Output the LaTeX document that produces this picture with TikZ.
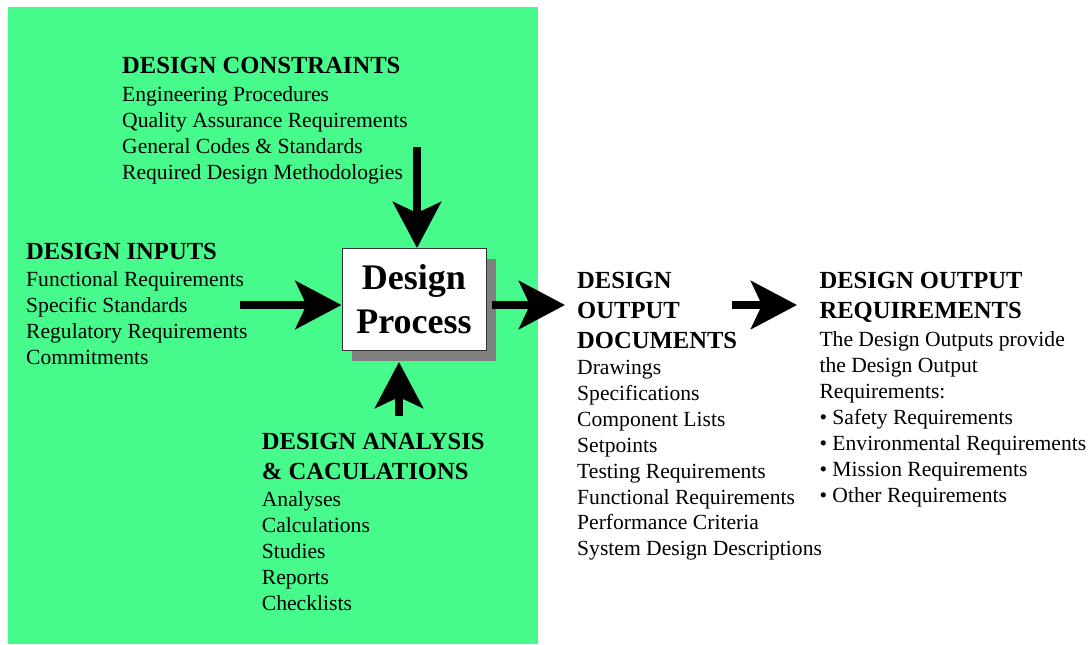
\documentclass[tikz,border=0pt]{standalone}
\usepackage{fontspec}
\setmainfont{Liberation Serif}
\usepackage{tikz}
\usetikzlibrary{arrows.meta,shadows}
\usepackage{xcolor}
\definecolor{ScreaminGreen}{HTML}{46FA8C}
\definecolor{Gray}{HTML}{808080}
\definecolor{Mine}{HTML}{333333}
\tikzset{
  head/.style={anchor=base west,inner sep=0,font=\bfseries\fontsize{24.6}{30}\selectfont},
  body/.style={anchor=base west,inner sep=0,font=\fontsize{21.6}{26}\selectfont},
  bigarrow/.style={line width=8pt,-{Stealth[length=46pt,width=48pt,inset=11pt]}},
  procbox/.style={draw=Mine,line width=1pt,fill=white,minimum width=144pt,minimum height=102pt,
    align=center,inner sep=0,font=\bfseries\fontsize{36}{44}\selectfont,
    drop shadow={shadow xshift=10pt,shadow yshift=-10pt,fill=Gray,opacity=1}}
}

\begin{document}
\begin{tikzpicture}[x=1pt,y=-1pt]
     \useasboundingbox (0,0) rectangle (1090,645);
     \fill[ScreaminGreen] (8,7) rectangle (538,644);

     % constraints
     \node[head] (conhead) at (122,73.3) {DESIGN CONSTRAINTS};
     \foreach \txt [count=\i from 0] in {Engineering Procedures,Quality Assurance Requirements,General Codes \& Standards,Required Design Methodologies}
       \node[body] (con\i) at (122,{101+26*\i}) {\txt};

     % inputs
     \node[head] (inhead) at (26,259.3) {DESIGN INPUTS};
     \foreach \txt [count=\i from 0] in {Functional Requirements,Specific Standards,Regulatory Requirements,Commitments}
       \node[body] (in\i) at (26,{286+26*\i}) {\txt};

     % analysis
     \node[head] (anahead) at (261.7,449.3) {DESIGN ANALYSIS};
     \node[head] (anahead2) at (261.7,479.3) {\& CACULATIONS};
     \foreach \txt [count=\i from 0] in {Analyses,Calculations,Studies,Reports,Checklists}
       \node[body] (ana\i) at (261.7,{506+26*\i}) {\txt};

     % output documents
     \node[head] (dochead) at (577,288.3) {DESIGN};
     \node[head] (dochead2) at (577,318.3) {OUTPUT};
     \node[head] (dochead3) at (577,348.3) {DOCUMENTS};
     \foreach \txt [count=\i from 0] in {Drawings,Specifications,Component Lists,Setpoints,Testing Requirements,Functional Requirements,Performance Criteria,System Design Descriptions}
       \node[body] (doc\i) at (577,{374.5+25.9*\i}) {\txt};

     % output requirements
     \node[head] (reqhead) at (819.3,288.3) {DESIGN OUTPUT};
     \node[head] (reqhead2) at (819.3,318.3) {REQUIREMENTS};
     \foreach \txt [count=\i from 0] in {The Design Outputs provide,the Design Output,Requirements:,\textbullet\ Safety Requirements,\textbullet\ Environmental Requirements,\textbullet\ Mission Requirements,\textbullet\ Other Requirements}
       \node[body] (req\i) at (819.3,{346.7+26*\i}) {\txt};

     \node[procbox] (proc) at (414,299.5) {Design\\Process};

     \coordinate (conarrow) at (417,147);
     \draw[bigarrow] (conarrow) -- (conarrow |- proc.north);
     \coordinate (inarrow) at (240,305);
     \draw[bigarrow] (inarrow) -- (inarrow -| proc.west);
     \coordinate (anaarrow) at (399,416);
     \coordinate (shadowbottom) at ([yshift=-11pt]proc.south);
     \draw[bigarrow] (anaarrow) -- (anaarrow |- shadowbottom);
     \coordinate (outstart) at ([xshift=5pt]proc.east);
     \coordinate (docarrow) at (565,305);
     \draw[bigarrow] (outstart |- inarrow) -- (docarrow);
     \coordinate (reqstart) at (732,305);
     \coordinate (reqarrow) at (797,305);
     \draw[bigarrow] (reqstart) -- (reqarrow);
    \end{tikzpicture}
\end{document}
